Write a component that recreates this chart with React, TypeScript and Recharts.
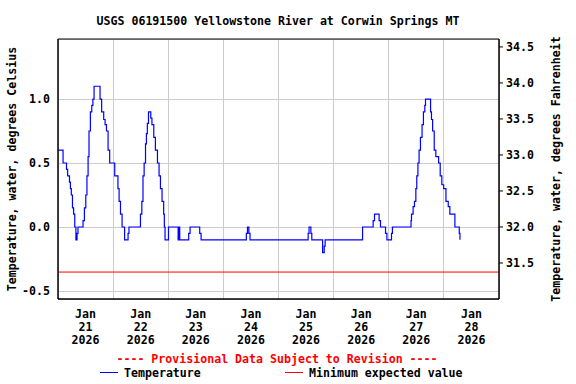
import React from 'react'
import { LineChart, Line, XAxis, YAxis, CartesianGrid, ReferenceLine, ReferenceArea } from 'recharts'

// hours after Jan 21 2026 00:00, value in deg C (step changes)
const hours = [
  0, 2.2, 3.7, 4.2, 5.0, 5.4, 5.8, 6.3, 6.8, 7.3, 7.8, 8.3, 8.7, 10.9, 11.5, 12.1, 12.6, 13.1, 13.5, 14.1,
  14.7, 15.2, 15.7, 18.3, 19.0, 19.9, 20.5, 21.1, 21.8, 22.5, 24.7, 26.1, 26.6, 27.2, 27.9, 29.0, 30.5, 30.9,
  35.9, 36.5, 37.0, 37.5, 38.1, 38.5, 38.9, 39.4, 40.4, 40.9, 41.7, 42.4, 43.3, 44.0, 44.6, 45.3, 46.0, 46.3,
  46.6, 48.1, 52.3, 52.7, 53.0, 56.9, 57.5, 61.7, 62.3, 82.0, 82.5, 83.1, 83.6, 108.9, 109.3, 110.1, 110.5,
  115.2, 115.9, 116.3, 132.6, 137.2, 137.8, 139.8, 140.4, 142.6, 143.2, 145.2, 145.6, 153.7, 153.9, 154.6,
  155.2, 155.8, 156.2, 156.7, 157.2, 157.8, 158.5, 159.1, 159.7, 160.0, 162.2, 162.6, 163.1, 163.8, 164.5,
  165.7, 166.4, 167.1, 167.9, 168.9, 169.9, 170.6, 172.8, 174.7, 175.0,
]
const tempC = [
  0.6, 0.5, 0.45, 0.4, 0.35, 0.3, 0.25, 0.15, 0.1, 0.0, -0.1, -0.05, 0.0, 0.05, 0.15, 0.25, 0.4, 0.55, 0.75, 0.9,
  0.95, 1.0, 1.1, 1.0, 0.9, 0.84, 0.8, 0.75, 0.6, 0.5, 0.4, 0.3, 0.2, 0.1, 0.0, -0.1, -0.05, 0.0,
  0.1, 0.2, 0.4, 0.5, 0.65, 0.73, 0.81, 0.9, 0.85, 0.8, 0.7, 0.6, 0.5, 0.4, 0.3, 0.2, 0.1, 0.0,
  -0.1, 0.0, -0.1, 0.0, -0.1, -0.05, 0.0, -0.05, -0.1, -0.05, 0.0, -0.05, -0.1, -0.05, 0.0, -0.05, -0.1,
  -0.2, -0.15, -0.1, 0.0, 0.05, 0.1, 0.05, 0.0, -0.05, -0.1, -0.05, 0.0, 0.05, 0.1, 0.16,
  0.2, 0.3, 0.4, 0.5, 0.6, 0.7, 0.8, 0.9, 0.95, 1.0, 0.9, 0.84, 0.75, 0.6, 0.55,
  0.5, 0.4, 0.33, 0.3, 0.2, 0.16, 0.1, 0.0, -0.05, -0.1,
]

const minExpected = -0.352
const celsiusTicks = [-0.5, 0, 0.5, 1.0]
const fahrenheitTicks = [31.5, 32.0, 32.5, 33.0, 33.5, 34.0, 34.5]
const gridHours = [0, 24, 48, 72, 96, 120, 144, 168, 192]
const labelHours = [12, 36, 60, 84, 108, 132, 156, 180]
const labelDays = ['21', '22', '23', '24', '25', '26', '27', '28']
const labelMonth = 'Jan'
const labelYear = '2026'

const title = 'USGS 06191500 Yellowstone River at Corwin Springs MT'
const provisional = '---- Provisional Data Subject to Revision ----'
const legendItems = [
  { name: 'Temperature', color: '#0000ff' },
  { name: 'Minimum expected value', color: '#ff0000' },
]

const data = hours.map((h, i) => ({ h, t: tempC[i] }))

const font = '"DejaVu Sans Mono", monospace'
const fs = 11.6

const DayTick = (props: any) => {
  const { x, y, index } = props
  return (
    <text x={x} y={y} textAnchor="middle" fontFamily={font} fontSize={fs} fontWeight="bold" fill="#000">
      <tspan x={x} dy={19}>{labelMonth}</tspan>
      <tspan x={x} dy={13}>{labelDays[index]}</tspan>
      <tspan x={x} dy={13}>{labelYear}</tspan>
    </text>
  )
}

export default function App() {
  const tickStyle = { fontFamily: font, fontSize: fs, fontWeight: 'bold', fill: '#000' }
  return (
    <div style={{ position: 'absolute', left: 0, top: 0, width: 576, height: 384, background: '#fff', fontFamily: font }}>
      <LineChart width={576} height={384} data={data} margin={{ top: 39, right: 0, bottom: 0, left: 0 }}>
        <XAxis xAxisId="grid" dataKey="h" type="number" domain={[0, 192]} ticks={gridHours} hide allowDataOverflow />
        <XAxis
          dataKey="h"
          type="number"
          domain={[0, 192]}
          ticks={labelHours}
          height={85}
          tickSize={0}
          tickMargin={0}
          tickLine={false}
          axisLine={{ stroke: '#000' }}
          tick={<DayTick />}
          interval={0}
          allowDataOverflow
        />
        <YAxis
          yAxisId="c"
          domain={[-0.5625, 1.469]}
          ticks={celsiusTicks}
          width={58}
          tickLine={false}
          axisLine={{ stroke: '#000' }}
          tick={tickStyle}
          tickFormatter={(v: number) => v.toFixed(1)}
          allowDataOverflow
          label={{
            value: 'Temperature, water, degrees Celsius',
            angle: -90,
            position: 'insideLeft',
            offset: 12,
            style: { textAnchor: 'middle', fontFamily: font, fontSize: fs, fontWeight: 'bold', fill: '#000' },
          }}
        />
        <YAxis
          yAxisId="f"
          orientation="right"
          domain={[31.0, 34.61]}
          ticks={fahrenheitTicks}
          width={77}
          tickSize={4}
          tickMargin={3}
          tickLine={{ stroke: '#000' }}
          axisLine={{ stroke: '#000' }}
          tick={tickStyle}
          tickFormatter={(v: number) => v.toFixed(1)}
          allowDataOverflow
          label={{
            value: 'Temperature, water, degrees Fahrenheit',
            angle: -90,
            position: 'insideRight',
            offset: 20,
            style: { textAnchor: 'middle', fontFamily: font, fontSize: fs, fontWeight: 'bold', fill: '#000' },
          }}
        />
        <CartesianGrid xAxisId="grid" yAxisId="c" stroke="#cccccc" shapeRendering="crispEdges" />
        <ReferenceLine yAxisId="c" y={minExpected} stroke="#ff0000" strokeWidth={1} />
        <Line
          yAxisId="c"
          type="stepAfter"
          dataKey="t"
          stroke="#0000ff"
          strokeWidth={1.2}
          dot={false}
          isAnimationActive={false}
        />
        <ReferenceArea yAxisId="f" x1={0} x2={192} y1={31.0} y2={34.61} fill="none" stroke="#000" strokeWidth={1} />
      </LineChart>
      <svg width={576} height={384} style={{ position: 'absolute', left: 0, top: 0, pointerEvents: 'none' }}>
        <text x={278} y={25} textAnchor="middle" fontFamily={font} fontSize={fs} fontWeight="bold" fill="#000">
          {title}
        </text>
        <text x={277} y={363} textAnchor="middle" fontFamily={font} fontSize={fs} fontWeight="bold" fill="#ff0000">
          {provisional}
        </text>
        {legendItems.map((item, i) => {
          const x0 = i === 0 ? 100 : 285
          return (
            <g key={item.name}>
              <line x1={x0} x2={x0 + 18} y1={372.5} y2={372.5} stroke={item.color} strokeWidth={1} />
              <text x={x0 + 24} y={376.5} fontFamily={font} fontSize={fs} fontWeight="bold" fill="#000">
                {item.name}
              </text>
            </g>
          )
        })}
      </svg>
    </div>
  )
}
